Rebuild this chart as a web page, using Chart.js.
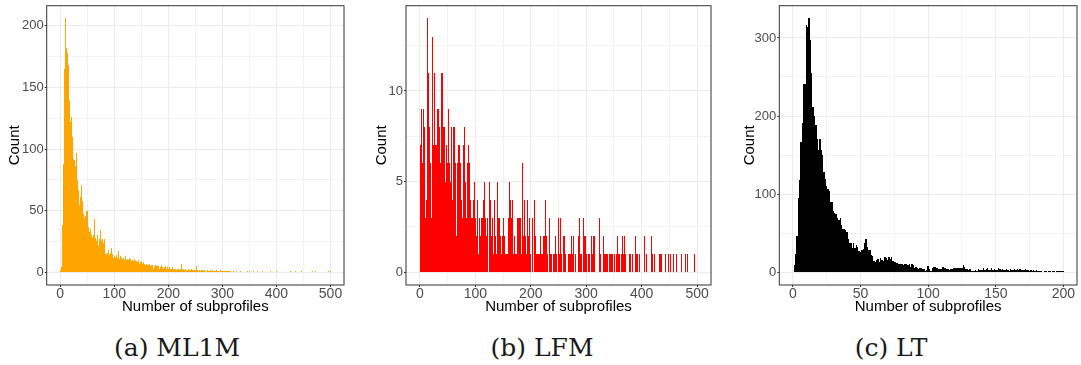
<!DOCTYPE html>
<html lang="en">
<head>
<meta charset="utf-8">
<title>Subprofiles per user</title>
<script src="https://cdn.jsdelivr.net/npm/chart.js@4.4.1/dist/chart.umd.min.js"></script>
<style>
  html, body { margin: 0; padding: 0; background: #ffffff; }
  body { position: relative; width: 1081px; height: 365px; overflow: hidden; }
  .panel { position: absolute; top: 0; height: 318px; }
  .caption {
    position: absolute; top: 335px; line-height: 25px;
    font-family: "DejaVu Serif", serif; font-size: 25px; color: #1a1a1a;
    transform: translateX(-50%); white-space: nowrap;
  }
</style>
</head>
<body>
  <div class="panel" style="left:6px; width:339px;"><canvas id="ml1m"></canvas></div>
  <div class="panel" style="left:373px; width:339px;"><canvas id="lfm"></canvas></div>
  <div class="panel" style="left:741px; width:337px;"><canvas id="lt"></canvas></div>
  <div class="caption" style="left:177px;">(a) ML1M</div>
  <div class="caption" style="left:542px;">(b) LFM</div>
  <div class="caption" style="left:891px;">(c) LT</div>

<script>
// Users per number of subprofiles, one bin per value, first bin = 1 subprofile
const ml1mCounts = [
  2,3,4,30,38,85,88,163,165,206,
  200,182,178,172,168,151,140,125,122,117,
  115,126,110,106,92,91,86,86,81,81,
  97,75,74,67,66,55,58,61,64,71,
  58,56,47,47,44,44,46,46,50,50,
  38,36,37,32,33,35,34,30,29,28,
  28,30,31,43,28,27,25,25,30,29,
  19,21,27,26,34,24,25,27,26,24,
  23,27,25,14,15,15,14,16,18,17,
  13,14,16,15,20,18,15,13,12,11,
  13,12,10,14,11,9,12,17,10,11,
  13,9,12,10,9,11,10,12,8,10,
  9,13,10,11,9,8,10,12,9,10,
  11,8,9,10,7,9,11,8,9,8,
  7,9,6,8,7,10,7,6,8,7,
  9,6,7,8,6,7,5,6,5,7,
  5,6,4,6,5,7,4,5,6,4,
  5,6,3,5,4,6,3,5,4,5,
  3,4,5,3,4,2,4,6,3,4,
  3,2,4,3,5,2,3,4,2,3,
  3,2,4,2,3,1,3,2,4,2,
  3,2,1,3,2,2,3,1,2,3,
  2,1,3,7,2,2,1,3,2,2,
  1,2,3,1,2,2,1,3,2,1,
  2,2,1,3,2,1,2,1,2,2,
  1,2,5,1,2,1,0,2,1,1,
  2,0,1,2,1,1,0,2,1,1,
  0,1,2,1,0,1,1,2,0,1,
  1,0,2,1,1,0,1,1,0,2,
  1,0,1,1,0,1,2,0,1,1,
  0,1,1,0,1,0,1,1,0,1,
  0,1,0,1,1,0,0,0,0,0,
  1,0,0,0,0,0,1,0,0,0,
  0,0,1,0,0,0,0,0,0,0,
  0,0,0,0,0,1,0,0,0,0,
  1,0,0,0,0,0,0,1,0,0,
  0,0,0,0,0,1,0,0,0,0,
  0,0,0,1,0,0,0,0,0,0,
  0,0,0,0,0,0,0,0,1,0,
  0,0,0,0,0,0,0,0,0,0,
  1,0,0,0,0,0,0,0,0,0,
  0,0,0,0,0,0,0,0,0,0,
  0,0,0,0,0,1,0,0,0,0,
  0,0,0,0,1,0,0,0,0,0,
  0,0,0,0,0,1,0,0,0,0,
  0,0,0,0,0,0,0,0,0,0,
  0,0,0,0,0,0,1,0,0,0,
  0,1,0,0,0,0,0,0,0,0,
  0,0,0,0,0,0,0,0,0,0,
  0,0,0,0,0,0,1,0,0,1
];

const lfmCounts = [
  7,9,5,6,4,9,7,8,
  5,3,4,2,14,10,11,8,7,
  8,6,3,2,13,9,7,5,4,
  11,7,7,5,9,6,9,9,7,
  8,6,11,9,11,11,8,7,5,
  8,5,7,6,6,4,9,6,5,
  6,5,8,7,4,3,8,5,6,
  8,6,2,1,6,4,7,5,5,
  7,6,4,3,3,2,7,5,6,
  8,5,3,2,6,4,7,6,6,
  5,4,3,2,3,3,4,2,3,
  5,3,2,1,4,2,1,1,3,
  3,2,3,3,3,2,4,3,3,
  5,3,3,2,3,1,0,0,5,
  5,4,3,2,3,3,1,1,1,
  4,2,1,1,5,3,3,2,3,
  3,2,2,1,2,2,3,1,2,
  2,1,1,1,1,0,3,2,1,
  5,3,4,3,4,2,1,1,1,
  2,1,1,1,3,2,3,2,3,
  2,2,3,1,6,3,2,1,1,
  4,2,2,1,4,3,2,1,3,
  1,1,0,0,3,1,0,0,2,
  4,2,1,1,1,1,1,1,1,
  1,1,2,1,1,1,2,1,2,
  2,1,4,2,1,1,0,0,2,
  3,1,1,1,0,0,1,1,1,
  1,1,2,1,0,0,3,2,1,
  1,0,3,1,0,0,2,1,2,
  2,1,1,0,0,0,1,0,1,
  1,0,1,1,2,1,2,1,0,
  0,0,1,0,0,0,2,1,1,
  3,1,0,0,1,0,3,1,2,
  1,0,2,1,1,0,1,1,1,
  0,0,0,0,2,1,2,1,2,
  1,0,0,0,0,0,0,0,3,
  2,1,1,0,0,0,2,1,1,
  1,1,1,0,1,1,1,0,0,
  1,1,1,0,1,1,0,0,0,
  1,0,0,0,1,0,2,1,1,
  0,0,0,0,1,0,2,1,0,
  2,1,1,0,0,0,0,0,0,
  1,0,1,0,0,0,1,0,0,
  0,0,2,1,0,0,1,0,1,
  0,0,0,0,0,0,0,0,2,
  1,0,0,0,1,0,0,0,0,
  0,0,0,0,2,1,1,0,1,
  0,0,0,0,0,0,0,0,1,
  1,0,1,0,1,0,0,0,0,
  0,0,1,0,0,0,0,0,1,
  0,0,1,0,0,0,0,0,1,
  0,0,0,0,1,0,0,0,0,
  0,0,0,0,1,0,0,0,0,
  0,0,1,0,0,0,1,0,0,
  0,0,0,0,0,0,0,0,0,
  1
];

const ltCounts = [
  9,23,47,95,118,167,191,241,241,317,
  314,325,297,255,212,200,189,170,157,170,
  157,150,129,120,110,106,104,90,90,78,
  76,75,69,67,69,60,56,55,54,51,
  42,38,37,31,37,31,35,33,27,26,
  29,30,38,43,33,28,28,22,21,14,
  13,16,17,13,18,16,15,20,18,16,
  19,17,19,14,13,13,12,11,11,10,
  11,9,10,11,9,11,7,10,9,5,
  7,6,4,5,5,4,4,2,3,8,
  4,2,5,7,7,5,5,4,4,4,
  7,5,5,4,4,3,4,4,5,5,
  6,6,5,6,6,9,7,4,4,3,
  4,2,1,1,3,2,4,3,3,3,
  5,3,4,5,3,3,5,3,4,3,
  3,5,4,3,4,3,3,4,3,2,
  4,3,3,4,3,4,3,4,3,3,
  3,4,3,3,2,3,2,3,2,3,
  2,1,2,2,0,1,1,0,1,1,
  0,1,1,0,1,1,1,1,1,1
];

// labelled axis breaks
const ml1mXBreaks = [0, 100, 200, 300, 400, 500];
const ml1mYBreaks = [0, 50, 100, 150, 200];
const lfmXBreaks = [0, 100, 200, 300, 400, 500];
const lfmYBreaks = [0, 5, 10];
const ltXBreaks = [0, 50, 100, 150, 200];
const ltYBreaks = [0, 100, 200, 300];

const SANS = '"Liberation Sans", Arial, Helvetica, sans-serif';

// labelled breaks plus the unlabelled half-way lines inside the range
function withMinor(breaks, min, max) {
  const half = (breaks[1] - breaks[0]) / 2;
  const out = breaks.filter(v => v >= min && v <= max).map(v => ({ value: v, labelled: true }));
  breaks.forEach(v => {
    [v - half, v + half].forEach(m => {
      if (m > min && m < max && !out.some(t => t.value === m)) out.push({ value: m, labelled: false });
    });
  });
  return out.sort((a, b) => a.value - b.value);
}

// snap bars to whole pixels; bins narrower than a pixel share one column
// (the tallest one shows), and any non-empty bin keeps at least 1px of height
const pixelSnap = {
  id: 'pixelSnap',
  beforeDatasetsDraw(chart) {
    chart.getSortedVisibleDatasetMetas().forEach(meta => {
      const x0 = meta.iScale.getPixelForValue(0);
      meta.data.forEach(bar => {
        let left, right;
        if (bar.width < 1) {
          left = Math.round(x0) + Math.floor(bar.x - x0);
          right = left + 1;
        } else {
          left = Math.round(bar.x - bar.width / 2);
          right = Math.round(bar.x + bar.width / 2);
        }
        const base = Math.round(bar.base);
        const top = bar.base - bar.y > 0.01 ? Math.min(Math.round(bar.y), base - 1) : base;
        bar.x = (left + right) / 2;
        bar.width = right - left;
        bar.y = top;
        bar.base = base;
      });
    });
  }
};

// dark frame round the plotting area, drawn over the bars
const panelBorder = {
  id: 'panelBorder',
  afterDatasetsDraw(chart) {
    const { ctx, chartArea: a } = chart;
    ctx.save();
    ctx.strokeStyle = '#333333';
    ctx.lineWidth = 1;
    ctx.strokeRect(a.left, a.top, a.right - a.left, a.bottom - a.top);
    ctx.restore();
  }
};

function drawHistogram(canvasId, counts, colour, xBreaks, yBreaks, yAxisWidth) {
  const xLimit = xBreaks[xBreaks.length - 1];
  const peak = Math.max(...counts);
  const xMin = -0.05 * xLimit, xMax = 1.05 * xLimit;
  const yMin = -0.05 * peak, yMax = 1.05 * peak;
  const points = counts.map((n, i) => ({ x: i + 1, y: n }));

  const grid = {
    offset: false,
    color: '#EBEBEB',
    lineWidth: ctx => (ctx.tick && ctx.tick.labelled ? 1 : 0.6),
    tickColor: ctx => (ctx.tick && ctx.tick.labelled ? '#333333' : 'rgba(0,0,0,0)'),
    tickLength: 2,
    tickWidth: 1
  };
  const tickText = (value, i, ticks) => (ticks[i].labelled ? String(value) : '');
  const titleFont = { family: SANS, size: 15 };

  return new Chart(document.getElementById(canvasId), {
    type: 'bar',
    data: {
      datasets: [{
        data: points,
        backgroundColor: colour,
        borderWidth: 0,
        inflateAmount: 0,
        barPercentage: 1,
        categoryPercentage: 1
      }]
    },
    options: {
      animation: false,
      responsive: true,
      maintainAspectRatio: false,
      events: [],
      layout: { padding: { top: 5.7, right: 1, bottom: 0, left: 0 } },
      plugins: { legend: { display: false }, tooltip: { enabled: false } },
      scales: {
        x: {
          type: 'linear', min: xMin, max: xMax, offset: false,
          afterBuildTicks: s => { s.ticks = withMinor(xBreaks, xMin, xMax); },
          afterFit: s => { s.height = 33; s.paddingLeft = 0; s.paddingRight = 0; },
          grid: grid,
          border: { display: false },
          ticks: { autoSkip: false, maxRotation: 0, padding: -1, color: '#4D4D4D', font: { family: SANS, size: 14 }, callback: tickText },
          title: { display: true, text: 'Number of subprofiles', color: '#000000', font: titleFont, padding: { top: 0, bottom: 2 } }
        },
        y: {
          type: 'linear', min: yMin, max: yMax,
          afterBuildTicks: s => { s.ticks = withMinor(yBreaks, yMin, yMax); },
          afterFit: s => { s.width = yAxisWidth; s.paddingTop = 0; s.paddingBottom = 0; },
          grid: grid,
          border: { display: false },
          ticks: { autoSkip: false, padding: 1, color: '#4D4D4D', font: { family: SANS, size: 13 }, callback: tickText },
          title: { display: true, text: 'Count', color: '#000000', font: titleFont, padding: { top: 0, bottom: 0 } }
        }
      }
    },
    plugins: [pixelSnap, panelBorder]
  });
}

drawHistogram('ml1m', ml1mCounts, '#FFA500', ml1mXBreaks, ml1mYBreaks, 40.7);
drawHistogram('lfm', lfmCounts, '#FF0000', lfmXBreaks, lfmYBreaks, 33);
drawHistogram('lt', ltCounts, '#000000', ltXBreaks, ltYBreaks, 38.3);
</script>
</body>
</html>
